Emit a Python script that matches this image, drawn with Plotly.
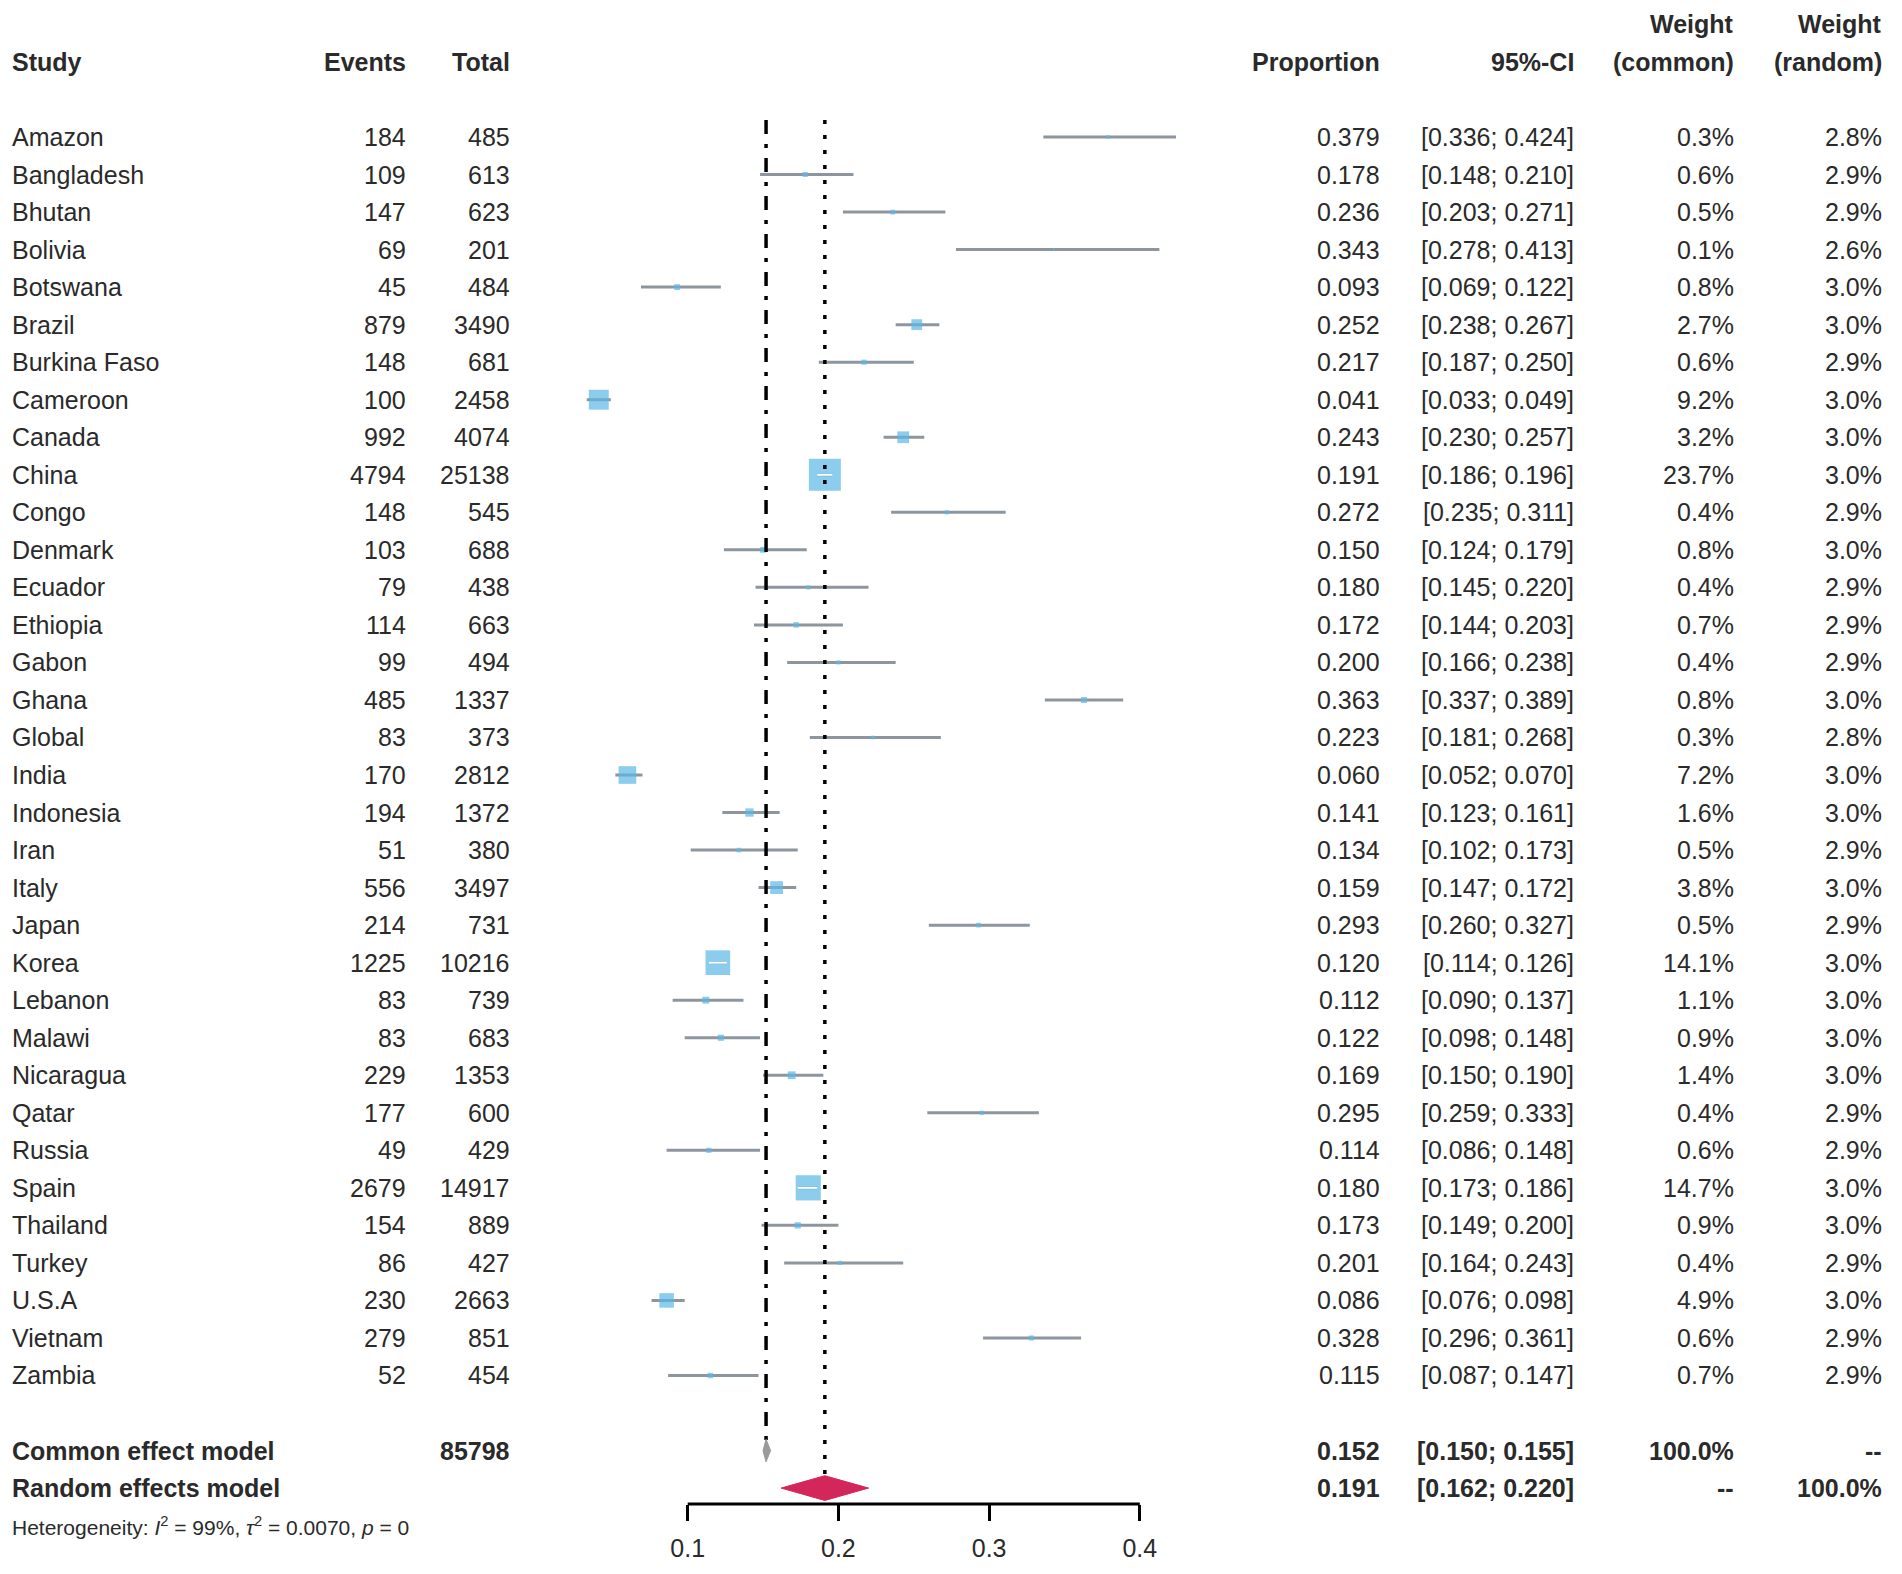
import plotly.graph_objects as go

# ---- data ----
studies = ["Amazon", "Bangladesh", "Bhutan", "Bolivia", "Botswana", "Brazil",
           "Burkina Faso", "Cameroon", "Canada", "China", "Congo", "Denmark",
           "Ecuador", "Ethiopia", "Gabon", "Ghana", "Global", "India",
           "Indonesia", "Iran", "Italy", "Japan", "Korea", "Lebanon", "Malawi",
           "Nicaragua", "Qatar", "Russia", "Spain", "Thailand", "Turkey",
           "U.S.A", "Vietnam", "Zambia"]
events = [184, 109, 147, 69, 45, 879, 148, 100, 992, 4794, 148, 103, 79, 114,
          99, 485, 83, 170, 194, 51, 556, 214, 1225, 83, 83, 229, 177, 49,
          2679, 154, 86, 230, 279, 52]
totals = [485, 613, 623, 201, 484, 3490, 681, 2458, 4074, 25138, 545, 688, 438,
          663, 494, 1337, 373, 2812, 1372, 380, 3497, 731, 10216, 739, 683,
          1353, 600, 429, 14917, 889, 427, 2663, 851, 454]
prop = [0.379, 0.178, 0.236, 0.343, 0.093, 0.252, 0.217, 0.041, 0.243, 0.191,
        0.272, 0.150, 0.180, 0.172, 0.200, 0.363, 0.223, 0.060, 0.141, 0.134,
        0.159, 0.293, 0.120, 0.112, 0.122, 0.169, 0.295, 0.114, 0.180, 0.173,
        0.201, 0.086, 0.328, 0.115]
ci_low = [0.336, 0.148, 0.203, 0.278, 0.069, 0.238, 0.187, 0.033, 0.230, 0.186,
          0.235, 0.124, 0.145, 0.144, 0.166, 0.337, 0.181, 0.052, 0.123, 0.102,
          0.147, 0.260, 0.114, 0.090, 0.098, 0.150, 0.259, 0.086, 0.173, 0.149,
          0.164, 0.076, 0.296, 0.087]
ci_high = [0.424, 0.210, 0.271, 0.413, 0.122, 0.267, 0.250, 0.049, 0.257, 0.196,
           0.311, 0.179, 0.220, 0.203, 0.238, 0.389, 0.268, 0.070, 0.161, 0.173,
           0.172, 0.327, 0.126, 0.137, 0.148, 0.190, 0.333, 0.148, 0.186, 0.200,
           0.243, 0.098, 0.361, 0.147]
w_common = [0.3, 0.6, 0.5, 0.1, 0.8, 2.7, 0.6, 9.2, 3.2, 23.7, 0.4, 0.8, 0.4,
            0.7, 0.4, 0.8, 0.3, 7.2, 1.6, 0.5, 3.8, 0.5, 14.1, 1.1, 0.9, 1.4,
            0.4, 0.6, 14.7, 0.9, 0.4, 4.9, 0.6, 0.7]
w_random = [2.8, 2.9, 2.9, 2.6, 3.0, 3.0, 2.9, 3.0, 3.0, 3.0, 2.9, 3.0, 2.9,
            2.9, 2.9, 3.0, 2.8, 3.0, 3.0, 2.9, 3.0, 2.9, 3.0, 3.0, 3.0, 3.0,
            2.9, 2.9, 3.0, 3.0, 2.9, 3.0, 2.9, 2.9]

model_labels = ["Common effect model", "Random effects model"]
model_total = ["85798", ""]
model_est = [0.152, 0.191]
model_low = [0.150, 0.162]
model_high = [0.155, 0.220]
model_wc = ["100.0%", "--"]
model_wr = ["--", "100.0%"]
heterogeneity = "Heterogeneity: <i>I</i><sup>2</sup> = 99%, <i>τ</i><sup>2</sup> = 0.0070, <i>p</i> = 0"

tick_vals = [0.1, 0.2, 0.3, 0.4]
tick_text = ["0.1", "0.2", "0.3", "0.4"]

# ---- layout geometry (pixels of the reference page) ----
W, H = 1902, 1574
OFF = 8                          # default body margin of the html page
WF, HF = W - 2 * OFF, H - 2 * OFF
ROW0, ROWH = 137, 37.53          # centre of first study row, row spacing
AXIS_PX = 1504                   # y pixel of the x axis line
X0_PX, PX_PER = 537, 1507        # pixel of x=0, pixels per unit
X_MAX = 0.45

FONT = "Liberation Sans, Arial, sans-serif"
TXT = "#2a2a2a"
SQ_COL = "#5bb7e6"
CI_COL = "#8d969f"
MAX_SQ = 32


def px_x(p):
    return (p - OFF) / WF


def px_y(p):
    return 1 - (p - OFF) / HF


n = len(studies)
rows = list(range(n))
row_common = n + 1
row_random = n + 2
row_het = n + 3

y_top = (OFF - ROW0) / ROWH
y_bot = (AXIS_PX - ROW0) / ROWH

fig = go.Figure()

# CI lines
xs, ys = [], []
for r, lo, hi in zip(rows, ci_low, ci_high):
    xs += [lo, hi, None]
    ys += [r, r, None]
fig.add_trace(go.Scatter(x=xs, y=ys, mode="lines",
                         line=dict(color=CI_COL, width=3), hoverinfo="skip"))

# squares, area ~ common weight
sizes = [MAX_SQ * (w / max(w_common)) ** 0.5 for w in w_common]
fig.add_trace(go.Scatter(x=prop, y=rows, mode="markers",
                         marker=dict(symbol="square", size=sizes, color=SQ_COL,
                                     line=dict(width=0)),
                         hoverinfo="skip"))

# white line where the CI sits inside the square
xs, ys = [], []
for r, lo, hi, s in zip(rows, ci_low, ci_high, sizes):
    if (hi - lo) * PX_PER < s:
        xs += [lo, hi, None]
        ys += [r, r, None]
fig.add_trace(go.Scatter(x=xs, y=ys, mode="lines",
                         line=dict(color="white", width=2), hoverinfo="skip"))

# reference lines for the two pooled estimates
fig.add_trace(go.Scatter(x=[model_est[0], model_est[0]], y=[-0.45, row_common + 0.15],
                         mode="lines", hoverinfo="skip",
                         line=dict(color="black", width=3.5, dash="14px,10px,4px,10px")))
fig.add_trace(go.Scatter(x=[model_est[1], model_est[1]], y=[-0.45, row_random - 0.35],
                         mode="lines", hoverinfo="skip",
                         line=dict(color="black", width=3.5, dash="4px,11px")))

# diamonds
half_h = [0.3, 0.33]
dia_col = ["#9a9a9a", "#d3265a"]
for r, est, lo, hi, h, c in zip([row_common, row_random], model_est, model_low,
                                model_high, half_h, dia_col):
    fig.add_trace(go.Scatter(x=[lo, est, hi, est, lo], y=[r, r - h, r, r + h, r],
                             mode="lines", fill="toself", fillcolor=c,
                             line=dict(color=c, width=1), hoverinfo="skip"))

# axis line only between first and last tick
fig.add_shape(type="line", xref="x", yref="y domain", x0=tick_vals[0],
              x1=tick_vals[-1], y0=0, y1=0, line=dict(color="black", width=3))


def txt(x, y, s, anchor, bold=False, size=25, yref="y"):
    fig.add_annotation(x=x, y=y, xref="paper", yref=yref,
                       text=f"<b>{s}</b>" if bold else s,
                       showarrow=False, xanchor=anchor, yanchor="middle",
                       font=dict(family=FONT, size=size, color=TXT))


col_study = px_x(10)
col_events = px_x(408)
col_total = px_x(512)
col_prop = px_x(1382)
col_ci = px_x(1576)
col_wc = px_x(1736)
col_wr = px_x(1884)

# headers
txt(col_study, -2, "Study", "left", True)
txt(col_events, -2, "Events", "right", True)
txt(col_total, -2, "Total", "right", True)
txt(col_prop, -2, "Proportion", "right", True)
txt(col_ci, -2, "95%-CI", "right", True)
txt(col_wc, -3, "Weight", "right", True)
txt(col_wc, -2, "(common)", "right", True)
txt(col_wr, -3, "Weight", "right", True)
txt(col_wr, -2, "(random)", "right", True)

# study rows
for i in rows:
    txt(col_study, i, studies[i], "left")
    txt(col_events, i, str(events[i]), "right")
    txt(col_total, i, str(totals[i]), "right")
    txt(col_prop, i, f"{prop[i]:.3f}", "right")
    txt(col_ci, i, f"[{ci_low[i]:.3f}; {ci_high[i]:.3f}]", "right")
    txt(col_wc, i, f"{w_common[i]:.1f}%", "right")
    txt(col_wr, i, f"{w_random[i]:.1f}%", "right")

# pooled rows
for k, r in enumerate([row_common, row_random]):
    txt(col_study, r, model_labels[k], "left", True)
    if model_total[k]:
        txt(col_total, r, model_total[k], "right", True)
    txt(col_prop, r, f"{model_est[k]:.3f}", "right", True)
    txt(col_ci, r, f"[{model_low[k]:.3f}; {model_high[k]:.3f}]", "right", True)
    txt(col_wc, r, model_wc[k], "right", True)
    txt(col_wr, r, model_wr[k], "right", True)

# heterogeneity line sits below the axis, so place it in paper units
txt(col_study, px_y(ROW0 + ROWH * row_het), heterogeneity, "left", size=21, yref="paper")

fig.update_xaxes(domain=[px_x(X0_PX), px_x(X0_PX + X_MAX * PX_PER)], range=[0, X_MAX],
                 showgrid=False, zeroline=False, showline=False,
                 tickmode="array", tickvals=tick_vals, ticktext=tick_text,
                 ticks="outside", ticklen=16, tickwidth=2.5, tickcolor="black",
                 ticklabelstandoff=6,
                 tickfont=dict(family=FONT, size=25, color=TXT))
fig.update_yaxes(domain=[px_y(AXIS_PX), 1], range=[y_bot, y_top],
                 showgrid=False, zeroline=False, showline=False,
                 showticklabels=False, ticks="")
fig.update_layout(width=WF, height=HF, margin=dict(l=0, r=0, t=0, b=0),
                  paper_bgcolor="white", plot_bgcolor="white", showlegend=False)

fig.write_html("out.html")
